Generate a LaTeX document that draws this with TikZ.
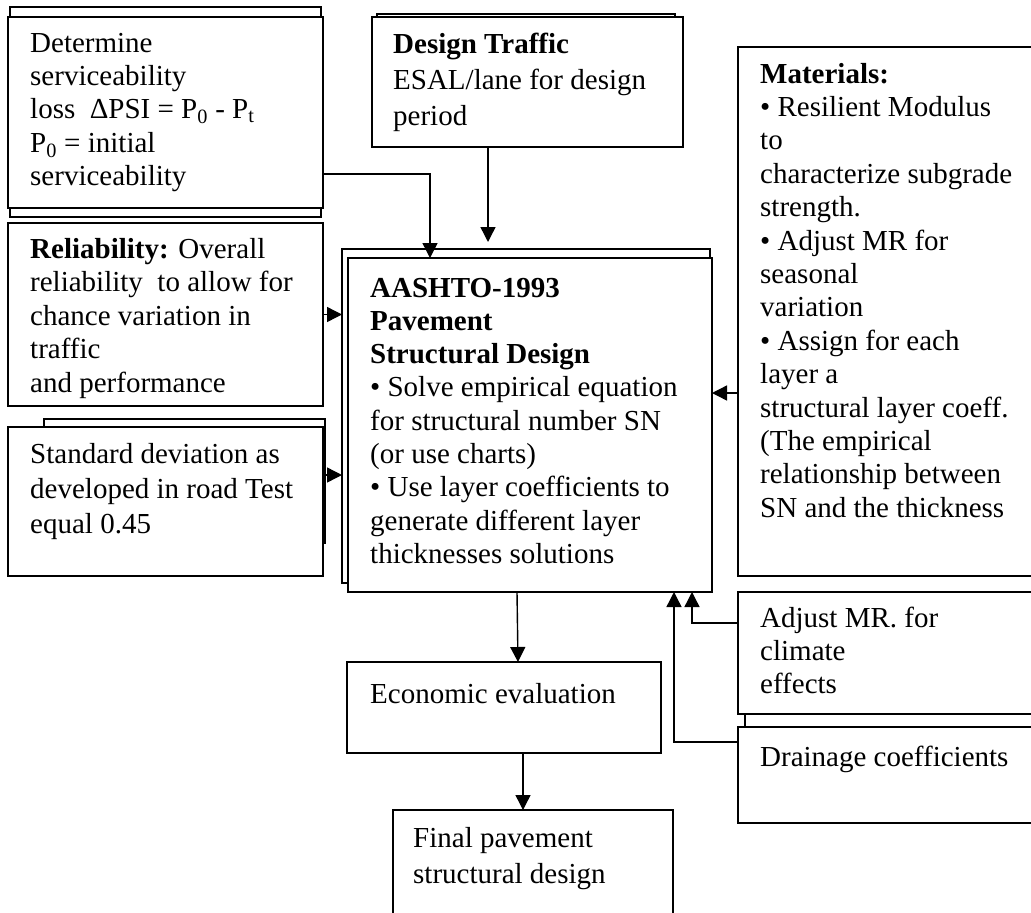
\documentclass[tikz,border=0pt]{standalone}
\usepackage{fontspec}
\setmainfont{Liberation Serif}
\usetikzlibrary{arrows.meta,calc}
\newcommand\boxlines[1]{\begin{tabular}[t]{@{}l@{}}#1\end{tabular}}
\newcommand\mkbox[5]{\node[bx, minimum width={(#4)-(#2)}, minimum height={(#5)-(#3)}] (#1) at ({((#2)+(#4))/2},{((#3)+(#5))/2}) {};}
\begin{document}
\begin{tikzpicture}[x=1pt,y=-1pt,
  bx/.style={draw, line width=1.6pt, fill=white, rectangle, inner sep=0pt, outer sep=0pt},
  txt/.style={anchor=base west, inner sep=0pt, font=\fontsize{29}{33.4}\selectfont},
  arr/.style={line width=1.4pt, -{Triangle[length=15pt,width=15pt]}}]
\useasboundingbox[fill=white] (0,0) rectangle (1031,913);
% boxes
\mkbox{detb}{10}{7}{321}{217}
\mkbox{det}{8}{17}{323}{208}
\mkbox{dtb}{377}{14}{675}{140}
\mkbox{dt}{372}{17}{683}{147}
\mkbox{rel}{8}{223}{323}{406}
\mkbox{sdb}{44}{419}{325}{543}
\mkbox{sd}{8}{427}{323}{576}
\mkbox{mainb}{342}{249}{710}{583}
\mkbox{main}{348}{258}{712}{592}
\mkbox{mat}{738}{47}{1045}{576}
\mkbox{drb}{745}{700}{1045}{815}
\mkbox{adj}{738}{592}{1045}{714}
\mkbox{dr}{738}{727}{1045}{823}
\mkbox{econ}{347}{662}{661}{753}
\mkbox{fin}{393}{810}{673}{930}
% texts
\node[txt] (tdet) at (30,52) {\boxlines{Determine\\ serviceability\\ loss ~ΔPSI = P\textsubscript{0} - P\textsubscript{t}\\ P\textsubscript{0} = initial\\ serviceability}};
\node[txt, font=\fontsize{29}{36}\selectfont] (tdt) at (393,53) {\boxlines{\textbf{Design Traffic}\\ ESAL/lane for design\\ period}};
\node[txt, font=\fontsize{29}{33.5}\selectfont] (trel) at (30,258) {\boxlines{\textbf{Reliability:} Overall\\ reliability ~to allow for\\ chance variation in\\ traffic\\ and performance}};
\node[txt, font=\fontsize{29}{35}\selectfont] (tsd) at (30,463) {\boxlines{Standard deviation as\\ developed in road Test\\ equal 0.45}};
\node[txt, font=\fontsize{29}{33.3}\selectfont] (tmain) at (370,297) {\boxlines{\textbf{AASHTO-1993}\\ \textbf{Pavement}\\ \textbf{Structural Design}\\ • Solve empirical equation\\ for structural number SN\\ (or use charts)\\ • Use layer coefficients to\\ generate different layer\\ thicknesses solutions}};
\node[txt] (tmat) at (760,83) {\boxlines{\textbf{Materials:}\\ • Resilient Modulus\\ to\\ characterize subgrade\\ strength.\\ • Adjust MR for\\ seasonal\\ variation\\ • Assign for each\\ layer a\\ structural layer coeff.\\ (The empirical\\ relationship between\\ SN and the thickness}};
\node[txt, font=\fontsize{29}{33}\selectfont] (tadj) at (760,627) {\boxlines{Adjust MR. for\\ climate\\ effects}};
\node[txt] (tdr) at (760,766) {Drainage coefficients};
\node[txt] (tecon) at (370,703) {Economic evaluation};
\node[txt, font=\fontsize{29}{36}\selectfont] (tfin) at (413,847) {\boxlines{Final pavement\\ structural design}};
% connectors
\coordinate (deto) at ([yshift=-61.5pt]det.east);
\coordinate (maini1) at ([xshift=-100pt]main.north);
\draw[arr] (deto) -| (maini1);
\coordinate (dto) at ([xshift=-39.5pt]dt.south);
\draw[arr, shorten >=7pt] (dto) -- (dto |- mainb.north);
\draw[arr] (rel.east) -- (rel.east -| mainb.west);
\coordinate (sdo) at ([yshift=26.5pt]sd.east);
\draw[arr] (sdo) -- (sdo -| mainb.west);
\coordinate (mato) at ([yshift=-81.5pt]mat.west);
\draw[arr] (mato) -- (mato -| main.east);
\draw[arr] ([xshift=-13pt]main.south) -- ([xshift=14pt]econ.north);
\draw[arr] ([xshift=19pt]econ.south) -- ([xshift=-10pt]fin.north);
\coordinate (adjo) at ([yshift=30pt]adj.west);
\coordinate (adji) at ([xshift=162pt]main.south);
\draw[arr] (adjo) -| (adji);
\coordinate (dro) at ([yshift=33pt]dr.west);
\coordinate (dri) at ([xshift=144pt]main.south);
\draw[arr] (dro) -| (dri);
\end{tikzpicture}
\end{document}
